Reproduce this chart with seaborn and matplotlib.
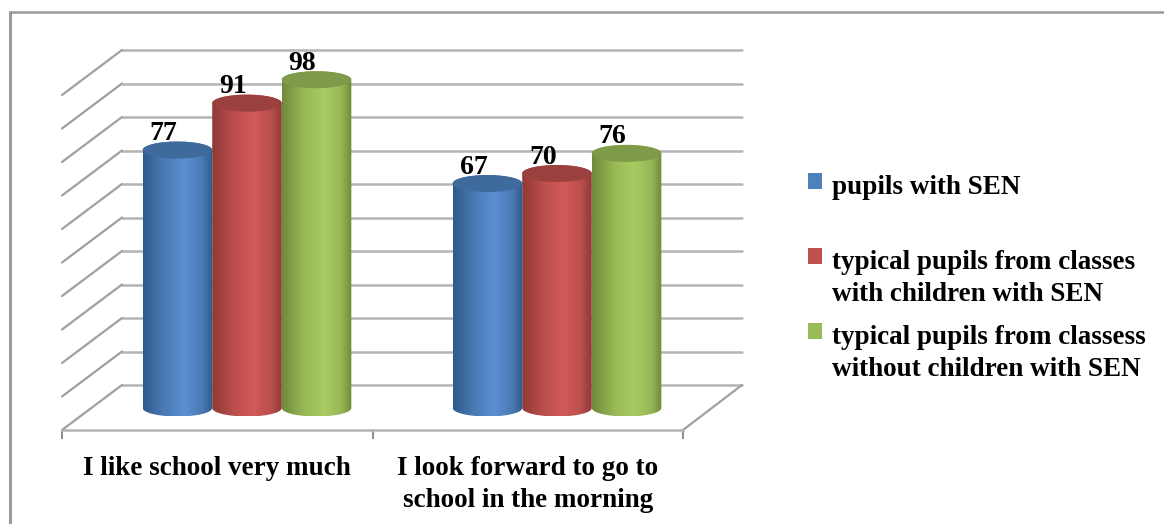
import numpy as np
import pandas as pd
import matplotlib
matplotlib.use("Agg")
import matplotlib.pyplot as plt
import seaborn as sns
from matplotlib.colors import LinearSegmentedColormap
from matplotlib.legend_handler import HandlerPatch
from matplotlib.lines import Line2D
from matplotlib.patches import Ellipse, Polygon, Rectangle

categories = ["I like school very much", "I look forward to go to\nschool in the morning"]
series_names = [
    "pupils with SEN\n",
    "typical pupils from classes\nwith children with SEN",
    "typical pupils from classess\nwithout children with SEN",
]
sen_values = [77, 67]
typical_with_values = [91, 70]
typical_without_values = [98, 76]
grid_values = [0, 10, 20, 30, 40, 50, 60, 70, 80, 90, 100]

legend_colors = ["#4f81bd", "#c0504d", "#9bbb59"]
edge_colors = ["#2f5a8c", "#8e3a38", "#6f8a3a"]
mid_colors = ["#4a7ab5", "#bb4e4c", "#97b755"]
light_colors = ["#5a8fd2", "#d2595a", "#a9cb62"]
top_colors = ["#3f6a9c", "#9a403e", "#7f9a48"]

W, H = 1164, 524
PX_PER_UNIT = 3.35
ELLIPSE_RY = 8.5
FONT_PT = 19.5
FONT_PX = FONT_PT * 100 / 72
GRID_COLOR = "#b4b4b4"
DIAG_COLOR = "#a0a0a0"

sns.set_theme(style="white")
plt.rcParams["font.family"] = ["Liberation Serif", "DejaVu Serif"]
plt.rcParams["font.weight"] = "bold"


def axes_px(fig, left, top, right, bottom):
    return fig.add_axes([left / W, 1 - bottom / H, (right - left) / W, (bottom - top) / H])


def raised_handle(legend, orig_handle, xdescent, ydescent, width, height, fontsize):
    # keep the swatch next to the first line of the two line labels
    return Rectangle((-xdescent, -ydescent + 16), width, height)


fig = plt.figure(figsize=(W / 100, H / 100), dpi=100, facecolor="white")

# outer frame, only top and left are inside the picture
fig.add_artist(Line2D([10 / W, 10 / W], [0, 1 - 12 / H], color="#9a9a9a", lw=2.2))
fig.add_artist(Line2D([10 / W, 1], [1 - 12 / H, 1 - 12 / H], color="#9a9a9a", lw=1.8))

# back wall with the gridlines
ax_wall = axes_px(fig, 122, 50, 742, 385)
ax_wall.set_xlim(0, 1)
ax_wall.set_ylim(0, 100)
ax_wall.set_yticks(grid_values)
ax_wall.set_xticks([])
ax_wall.tick_params(left=False, labelleft=False)
ax_wall.grid(axis="y", color=GRID_COLOR, lw=1.8, clip_on=False)
ax_wall.set_axisbelow(True)
sns.despine(ax=ax_wall, left=True, bottom=True)
ytrans = ax_wall.get_yaxis_transform()
depth_x = 60 / 620
depth_y = 45 / PX_PER_UNIT
for v in grid_values:
    ax_wall.plot([-depth_x, 0], [v - depth_y, v], color=DIAG_COLOR, lw=1.6, transform=ytrans, clip_on=False)
ax_wall.plot([561 / 620, 1], [-depth_y, 0], color=DIAG_COLOR, lw=1.6, transform=ytrans, clip_on=False)

# cylinders sit half way between the wall and the front edge
ax = axes_px(fig, 92, 73, 712, 408)
ax.patch.set_alpha(0)
df = pd.DataFrame({
    "category": categories * 3,
    "series": np.repeat(series_names, 2),
    "value": sen_values + typical_with_values + typical_without_values,
})
sns.barplot(data=df, x="category", y="value", hue="series", palette=legend_colors,
            width=0.673, gap=0, saturation=1, legend=False, ax=ax)
ax.set_xlim(-0.5, 1.5)
ax.set_ylim(0, 100)
ax.set_xticks([])
ax.set_yticks([])
ax.set_xlabel("")
ax.set_ylabel("")
sns.despine(ax=ax, left=True, bottom=True)

ry = ELLIPSE_RY / PX_PER_UNIT
theta = np.linspace(0, np.pi, 60)
for i, container in enumerate(ax.containers):
    cmap = LinearSegmentedColormap.from_list(
        "cyl", [(0, edge_colors[i]), (0.3, mid_colors[i]), (0.6, light_colors[i]),
                (0.85, mid_colors[i]), (1, edge_colors[i])])
    grad = np.linspace(0, 1, 128).reshape(1, -1)
    for bar in container:
        x0, w, v = bar.get_x(), bar.get_width(), bar.get_height()
        cx = x0 + w / 2
        arc_x = cx + w / 2 * np.cos(theta)
        outline = np.vstack([
            np.column_stack([arc_x, v + ry * np.sin(theta)]),
            np.column_stack([arc_x[::-1], -ry * np.sin(theta[::-1])]),
        ])
        clip = Polygon(outline, closed=True, transform=ax.transData)
        bar.set_visible(False)
        img = ax.imshow(grad, extent=(x0, x0 + w, -ry, v + ry), aspect="auto", cmap=cmap,
                        zorder=3 + i)
        img.set_clip_path(clip)
        img.set_clip_box(fig.bbox)
        ax.add_patch(Ellipse((cx, v), w, 2 * ry, facecolor=top_colors[i], edgecolor="none",
                             zorder=3 + i, clip_on=False))
        ax.annotate(f"{v:.0f}", xy=(cx, v), xytext=(-14, 10), textcoords="offset pixels",
                    ha="center", va="baseline", fontsize=20, fontweight="bold",
                    color="black", zorder=10)
ax.set_xlim(-0.5, 1.5)
ax.set_ylim(0, 100)

# front edge with the category labels
ax_front = axes_px(fig, 62, 400, 683, 430)
ax_front.patch.set_alpha(0)
ax_front.set_xlim(-0.5, 1.5)
ax_front.set_yticks([])
ax_front.set_xticks([0, 1])
ax_front.set_xticklabels(categories, fontsize=FONT_PT, fontweight="bold", color="black", linespacing=1.37)
ax_front.tick_params(axis="x", which="major", length=0, pad=18.5)
ax_front.set_xticks([-0.5, 0.5, 1.5], minor=True)
ax_front.tick_params(axis="x", which="minor", length=6.5, width=1.4, color="#8c8c8c", bottom=True)
sns.despine(ax=ax_front, left=True)
ax_front.spines["bottom"].set_color(GRID_COLOR)
ax_front.spines["bottom"].set_linewidth(1.8)

handles = [Rectangle((0, 0), 1, 1, facecolor=c, edgecolor="none") for c in legend_colors]
leg = fig.legend(handles, series_names, loc="upper left",
                 bbox_to_anchor=(808 / W, 1 - 175 / H), frameon=False, fontsize=FONT_PT,
                 borderpad=0, borderaxespad=0, handlelength=14 / FONT_PX, handleheight=14 / FONT_PX,
                 handletextpad=10 / FONT_PX, labelspacing=18 / FONT_PX,
                 handler_map={Rectangle: HandlerPatch(patch_func=raised_handle)})
for t in leg.get_texts():
    t.set_linespacing(1.37)
    t.set_fontweight("bold")
    t.set_color("black")

fig.savefig("out.png", dpi=100)
